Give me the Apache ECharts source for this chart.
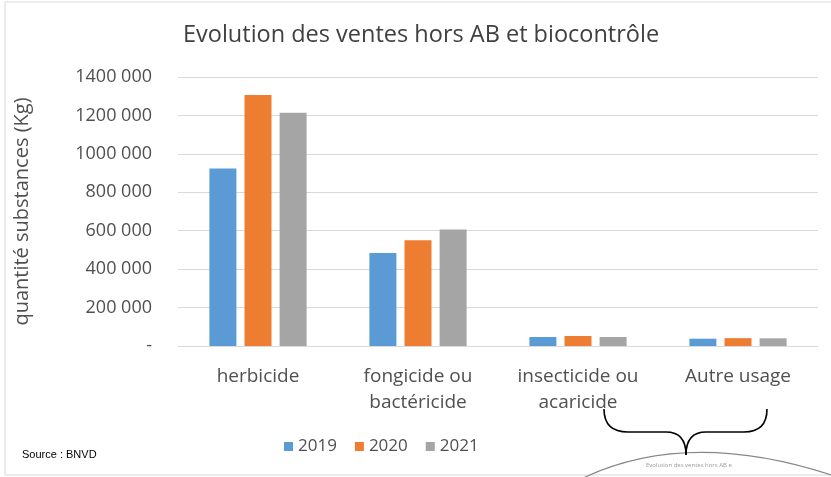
<!DOCTYPE html>
<html>
<head>
<meta charset="utf-8">
<script src="https://cdn.jsdelivr.net/npm/echarts@6/dist/echarts.min.js"></script>
<style>
  html, body { margin: 0; padding: 0; background: #fff; }
  #main { width: 831px; height: 477px; }
</style>
</head>
<body>
<div id="main"></div>
<script>
// categories and yearly sales (kg of substances)
var categories = ['herbicide', 'fongicide ou\nbactéricide', 'insecticide ou\nacaricide', 'Autre usage'];
var years = ['2019', '2020', '2021'];
var sales2019 = [924000, 484000, 47000, 38000];
var sales2020 = [1306000, 550000, 52000, 41000];
var sales2021 = [1214000, 606000, 47000, 40000];
var colors = ['#5B9BD5', '#ED7D31', '#A5A5A5'];

var myChart = echarts.init(document.getElementById('main'));

function fmt(v){
    if(v === 0) return '-';
    return (v / 1000) + ' 000';
}

var seriesData = [sales2019, sales2020, sales2021];
var series = [];
for(var i = 0; i < years.length; i++){
    series.push({
        name: years[i],
        type: 'bar',
        data: seriesData[i],
        barWidth: 27,
        barGap: '30%',
        itemStyle: { color: colors[i] }
    });
}

var brace = { fill: 'none', stroke: '#000', lineWidth: 1.6 };

var option = {
    animation: false,
    textStyle: { fontFamily: 'Open Sans' },
    title: {
        text: 'Evolution des ventes hors AB et biocontrôle',
        left: 178,
        top: 18,
        textStyle: { fontSize: 23.5, fontWeight: 'normal', color: '#404040', fontFamily: 'Open Sans' }
    },
    legend: {
        data: years,
        left: 279,
        top: 433,
        itemWidth: 9,
        itemHeight: 9,
        itemGap: 18,
        icon: 'rect',
        textStyle: { fontSize: 17, color: '#505050', fontFamily: 'Open Sans' }
    },
    grid: { left: 178, right: 13, top: 77, bottom: 131 },
    xAxis: {
        type: 'category',
        data: categories,
        axisTick: { show: false },
        axisLine: { lineStyle: { color: '#d9d9d9' } },
        axisLabel: { fontSize: 19, color: '#505050', margin: 18, lineHeight: 26, interval: 0 }
    },
    yAxis: {
        type: 'value',
        min: 0,
        max: 1400000,
        interval: 200000,
        name: 'quantité substances (Kg)',
        nameLocation: 'middle',
        nameGap: 146,
        nameRotate: 90,
        nameTextStyle: { fontSize: 20, color: '#505050' },
        axisLabel: { fontSize: 18, color: '#505050', margin: 26, formatter: fmt },
        splitLine: { lineStyle: { color: '#d9d9d9' } }
    },
    graphic: [
        { type: 'rect', shape: { x: 5, y: 2, width: 830, height: 473 },
          style: { fill: 'none', stroke: '#d9d9d9', lineWidth: 1 }, silent: true },
        { type: 'text', x: 22, y: 449,
          style: { text: 'Source : BNVD', font: '11px "Liberation Sans", Arial', fill: '#000' } },
        { type: 'bezierCurve', shape: { x1: 575, y1: 482, cpx1: 686, cpy1: 425, x2: 840, y2: 478 },
          style: { fill: 'none', stroke: '#888', lineWidth: 1.2 } },
        { type: 'text', x: 646, y: 462,
          style: { text: 'Evolution des ventes hors AB e', font: '6px "Open Sans"', fill: '#999' } },
        { type: 'bezierCurve', shape: { x1: 604, y1: 409, cpx1: 604, cpy1: 432, x2: 628, y2: 432 }, style: brace },
        { type: 'line', shape: { x1: 628, y1: 432, x2: 666, y2: 432 }, style: brace },
        { type: 'bezierCurve', shape: { x1: 666, y1: 432, cpx1: 686, cpy1: 432, x2: 686, y2: 455 }, style: brace },
        { type: 'bezierCurve', shape: { x1: 706, y1: 432, cpx1: 686, cpy1: 432, x2: 686, y2: 455 }, style: brace },
        { type: 'line', shape: { x1: 706, y1: 432, x2: 744, y2: 432 }, style: brace },
        { type: 'bezierCurve', shape: { x1: 767, y1: 409, cpx1: 767, cpy1: 432, x2: 744, y2: 432 }, style: brace }
    ],
    series: series
};
myChart.setOption(option);
</script>
</body>
</html>
